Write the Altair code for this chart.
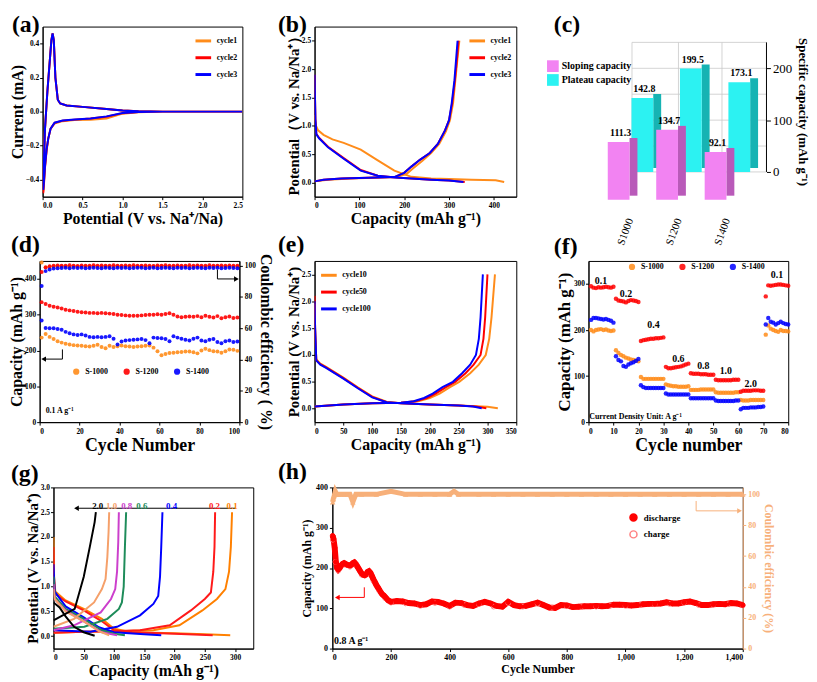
import altair as alt
import pandas as pd

SERIF = "Liberation Serif"
ORANGE = "#FF8C1A"
RED = "#FF0000"
BLUE = "#0000FF"
PINK = "#F283F2"
PINK_SIDE = "#B95AB9"
CYAN = "#2CF2F2"
CYAN_SIDE = "#16B3B3"
CE_ORANGE = "#F7B07A"

# ---------------- (a) cyclic voltammetry ----------------
cv_potential = [2.5, 2.0, 1.5, 1.2, 1.0, 0.8, 0.6, 0.4, 0.25, 0.15, 0.1, 0.07, 0.05, 0.03, 0.015, 0.008,
                0.012, 0.03, 0.06, 0.09, 0.11, 0.125, 0.14, 0.16, 0.19, 0.22, 0.3, 0.5, 0.8, 1.0, 1.2, 1.5, 2.0, 2.5]
cv_cycle1 = [0.0, 0.0, 0.0, -0.004, -0.012, -0.04, -0.048, -0.05, -0.056, -0.07, -0.1, -0.16, -0.22, -0.32, -0.43, -0.47,
             -0.35, -0.1, 0.12, 0.3, 0.42, 0.46, 0.42, 0.2, 0.07, 0.048, 0.036, 0.028, 0.016, 0.006, 0.002, 0.0, 0.0, 0.0]
cv_cycle2 = [0.0, 0.0, 0.0, -0.002, -0.009, -0.03, -0.041, -0.047, -0.053, -0.066, -0.1, -0.16, -0.23, -0.33, -0.44, -0.48,
             -0.36, -0.1, 0.12, 0.3, 0.42, 0.46, 0.42, 0.2, 0.07, 0.048, 0.036, 0.028, 0.016, 0.006, 0.002, 0.0, 0.0, 0.0]
cv_cycle3 = [0.0, 0.0, 0.0, -0.002, -0.008, -0.028, -0.04, -0.046, -0.052, -0.065, -0.1, -0.16, -0.22, -0.32, -0.42, -0.46,
             -0.35, -0.1, 0.12, 0.3, 0.42, 0.46, 0.42, 0.2, 0.07, 0.048, 0.036, 0.028, 0.016, 0.006, 0.002, 0.0, 0.0, 0.0]

# ---------------- (b) first three cycles GCD ----------------
b_c1_dis_cap = [0, 3, 8, 20, 40, 65, 103, 141, 178, 216, 260, 300, 350, 404, 423]
b_c1_dis_pot = [1.19, 1.0, 0.92, 0.84, 0.76, 0.7, 0.58, 0.39, 0.21, 0.1, 0.07, 0.06, 0.05, 0.04, 0.01]
b_c1_chg_cap = [0, 30, 80, 130, 180, 205, 220, 240, 260, 278, 293, 302, 309, 314, 319, 323]
b_c1_chg_pot = [0.02, 0.05, 0.07, 0.085, 0.095, 0.15, 0.25, 0.38, 0.52, 0.68, 0.9, 1.1, 1.4, 1.8, 2.2, 2.5]
b_c2_dis_cap = [0, 1, 2, 4, 10, 30, 65, 103, 141, 180, 216, 260, 300, 335]
b_c2_dis_pot = [1.9, 1.5, 1.1, 0.86, 0.79, 0.63, 0.43, 0.22, 0.12, 0.09, 0.07, 0.05, 0.035, 0.01]
b_c2_chg_cap = [0, 20, 60, 120, 178, 200, 216, 235, 257, 275, 291, 300, 307, 313, 318, 321]
b_c2_chg_pot = [0.02, 0.05, 0.07, 0.085, 0.095, 0.17, 0.28, 0.4, 0.52, 0.68, 0.92, 1.1, 1.4, 1.8, 2.2, 2.5]
b_c3_dis_cap = [0, 1, 2, 4, 10, 30, 65, 103, 141, 180, 216, 260, 300, 332]
b_c3_dis_pot = [1.9, 1.5, 1.1, 0.85, 0.78, 0.62, 0.42, 0.21, 0.12, 0.09, 0.07, 0.05, 0.035, 0.01]
b_c3_chg_cap = [0, 20, 60, 120, 178, 200, 216, 235, 257, 275, 291, 300, 306, 312, 316, 319]
b_c3_chg_pot = [0.02, 0.05, 0.07, 0.085, 0.095, 0.17, 0.28, 0.4, 0.52, 0.68, 0.92, 1.1, 1.4, 1.8, 2.2, 2.5]

# ---------------- (c) sloping / plateau capacity ----------------
c_sample = ["S1000", "S1200", "S1400"]
c_sloping = [111.3, 134.7, 92.1]
c_plateau = [142.8, 199.5, 173.1]
c_grid = [0, 50, 100, 150, 200, 250]

# ---------------- (d) cycling at 0.1 A/g ----------------
d_cycle = list(range(1, 101, 2))
d_cap_1000 = [236, 246, 238, 232, 226, 222, 219, 217, 215, 214, 213, 212, 211, 213, 216, 210, 206, 213, 210, 212,
              214, 212, 211, 210, 211, 212, 213, 214, 208, 198, 187, 190, 193, 194, 195, 196, 197, 197, 195, 192,
              200, 205, 201, 198, 197, 194, 198, 203, 202, 199]
d_cap_1200 = [335, 330, 325, 322, 320, 317, 314, 312, 310, 308, 307, 306, 305, 305, 304, 305, 304, 303, 302, 300,
              299, 298, 297, 297, 297, 298, 299, 300, 300, 301, 300, 302, 304, 300, 295, 293, 294, 295, 294, 296,
              293, 297, 294, 292, 296, 290, 293, 295, 291, 292]
d_cap_1400 = [284, 263, 262, 262, 260, 258, 252, 248, 245, 243, 245, 242, 238, 237, 238, 237, 238, 240, 233, 217,
              225, 228, 229, 230, 231, 232, 229, 220, 236, 235, 234, 232, 226, 240, 236, 233, 230, 228, 233, 236,
              228, 226, 230, 232, 224, 220, 226, 228, 224, 225]
d_ce_1000 = [102, 99.0, 99.3, 99.5, 99.4, 99.6, 99.5, 99.3, 99.6, 99.5, 99.4, 99.7, 99.5, 99.6, 99.4, 99.5, 99.6,
             99.3, 99.5, 99.6, 99.4, 99.5, 99.7, 99.5, 99.4, 99.6, 99.5, 99.3, 99.6, 99.5, 99.7, 99.4, 99.5, 99.6,
             99.5, 99.4, 99.6, 99.5, 99.3, 99.6, 99.5, 99.4, 99.6, 99.5, 99.7, 99.5, 99.4, 99.6, 99.5, 99.4]
d_ce_1200 = [96.0, 98.8, 99.6, 99.9, 100.1, 100.0, 99.9, 100.2, 100.0, 99.8, 100.1, 100.0, 99.9, 100.2, 100.0,
             100.1, 99.9, 100.0, 100.2, 100.0, 99.9, 100.1, 100.0, 100.2, 99.9, 100.0, 100.1, 100.0, 99.8, 100.1,
             100.0, 100.2, 99.9, 100.0, 100.1, 100.0, 99.9, 100.2, 100.0, 100.1, 99.9, 100.0, 100.2, 100.0, 99.9,
             100.1, 100.0, 100.1, 99.9, 100.0]
d_ce_1400 = [87.0, 96.5, 97.6, 98.2, 98.4, 98.5, 98.6, 98.4, 98.7, 98.5, 98.6, 98.4, 98.5, 98.7, 98.5, 98.3, 98.6,
             98.5, 98.4, 98.7, 98.5, 98.6, 98.4, 98.5, 98.7, 98.6, 98.4, 98.5, 98.6, 98.3, 98.5, 98.7, 98.5, 98.4,
             98.6, 98.5, 98.7, 98.4, 98.5, 98.6, 98.5, 98.4, 98.7, 98.5, 98.6, 98.4, 98.5, 98.6, 98.5, 98.4]
d_arrow_left_cycle = [11.4, 11.4, 2.0]
d_arrow_left_cap = [203, 176, 176]
d_arrow_right_cycle = [89, 89, 98.5]
d_arrow_right_ce = [97.5, 91.5, 91.5]

# ---------------- (e) cycles 10/50/100 GCD ----------------
e_c10_dis_cap = [0, 1, 3, 10, 20, 50, 75, 100, 125, 150, 200, 250, 300, 318]
e_c10_dis_pot = [1.95, 1.4, 0.92, 0.84, 0.78, 0.58, 0.4, 0.23, 0.13, 0.1, 0.08, 0.06, 0.035, 0.01]
e_c10_chg_cap = [0, 50, 100, 150, 180, 200, 217, 235, 251, 270, 285, 297, 303, 307, 310, 313]
e_c10_chg_pot = [0.04, 0.08, 0.1, 0.11, 0.14, 0.2, 0.28, 0.4, 0.5, 0.66, 0.82, 1.0, 1.3, 1.7, 2.1, 2.5]
e_c50_dis_cap = [0, 1, 3, 10, 20, 50, 75, 100, 125, 150, 200, 250, 280, 298]
e_c50_dis_pot = [2.1, 1.5, 0.9, 0.83, 0.77, 0.57, 0.39, 0.22, 0.12, 0.1, 0.08, 0.06, 0.04, 0.01]
e_c50_chg_cap = [0, 50, 100, 150, 175, 195, 210, 228, 244, 262, 276, 288, 293, 296, 298, 300]
e_c50_chg_pot = [0.04, 0.08, 0.1, 0.11, 0.14, 0.2, 0.28, 0.4, 0.5, 0.66, 0.82, 1.0, 1.3, 1.7, 2.1, 2.5]
e_c100_dis_cap = [0, 1, 3, 10, 20, 50, 75, 100, 125, 150, 200, 250, 275, 290]
e_c100_dis_pot = [2.0, 1.5, 0.9, 0.82, 0.76, 0.56, 0.38, 0.21, 0.12, 0.1, 0.08, 0.06, 0.04, 0.01]
e_c100_chg_cap = [0, 50, 100, 150, 172, 190, 205, 222, 240, 256, 270, 280, 285, 288, 290, 292]
e_c100_chg_pot = [0.04, 0.08, 0.1, 0.11, 0.14, 0.2, 0.28, 0.4, 0.5, 0.66, 0.82, 1.0, 1.3, 1.7, 2.1, 2.5]

# ---------------- (f) rate capability ----------------
f_cycle = list(range(1, 81))
f_s1000 = [200, 197, 200, 201, 202, 200, 201, 199, 198, 199,
           156, 150, 146, 143, 140, 138, 136, 135, 134, 132,
           98, 94, 94, 94, 94, 94, 94, 94, 94, 94,
           82, 80, 79, 78, 78, 77, 77, 77, 77, 78,
           70, 70, 70, 70, 71, 71, 71, 71, 71, 71,
           65, 64, 64, 64, 64, 64, 64, 64, 65, 65,
           48, 47, 47, 47, 48, 48, 48, 48, 48, 48,
           190, 210, 203, 200, 198, 196, 200, 198, 198, 197]
f_s1200 = [295, 292, 291, 293, 292, 293, 294, 293, 292, 294,
           268, 264, 263, 262, 260, 263, 265, 264, 263, 261,
           176, 178, 179, 180, 181, 181, 182, 182, 183, 184,
           120, 117, 117, 118, 119, 120, 121, 123, 125, 127,
           106, 105, 105, 105, 104, 104, 104, 103, 103, 103,
           92, 91, 91, 91, 91, 91, 91, 92, 92, 92,
           66, 68, 68, 68, 68, 69, 69, 69, 68, 68,
           273, 297, 296, 297, 298, 299, 299, 298, 297, 296]
f_s1400 = [222, 226, 226, 225, 224, 223, 224, 222, 220, 216,
           143, 135, 132, 122, 120, 125, 128, 130, 133, 137,
           80, 76, 74, 74, 74, 74, 74, 74, 74, 74,
           62, 60, 60, 60, 60, 60, 60, 60, 60, 60,
           52, 52, 52, 52, 52, 52, 52, 52, 52, 52,
           47, 46, 46, 46, 46, 46, 46, 46, 47, 47,
           28, 31, 31, 31, 32, 32, 32, 33, 33, 34,
           212, 226, 218, 216, 212, 215, 218, 215, 213, 212]
f_rate_text = ["0.1", "0.2", "0.4", "0.6", "0.8", "1.0", "2.0", "0.1"]
f_rate_cycle = [5, 15, 26, 36, 46, 55, 65, 75.5]
f_rate_cap = [307, 278, 210, 138, 121, 110, 83, 319]

# ---------------- (g) GCD at different rates ----------------
g_rates = ["0.1", "0.2", "0.4", "0.6", "0.8", "1.0", "2.0"]
g_colors = ["#FF8000", "#FF1A1A", "#0000FF", "#1E8C5A", "#CC3FCC", "#F5A06A", "#000000"]
g_01_dis_cap = [0, 1, 3, 20, 50, 80, 100, 130, 200, 250, 292]
g_01_dis_pot = [2.0, 1.2, 0.9, 0.72, 0.55, 0.35, 0.15, 0.08, 0.06, 0.04, 0.02]
g_01_chg_cap = [0, 50, 100, 165, 208, 246, 270, 284, 290, 293, 295]
g_01_chg_pot = [0.07, 0.09, 0.1, 0.12, 0.22, 0.52, 0.75, 0.95, 1.3, 1.8, 2.5]
g_02_dis_cap = [0, 1, 3, 20, 50, 80, 100, 130, 200, 263]
g_02_dis_pot = [1.8, 1.1, 0.85, 0.7, 0.52, 0.3, 0.12, 0.08, 0.05, 0.02]
g_02_chg_cap = [0, 50, 100, 143, 192, 227, 250, 260, 264, 266, 267]
g_02_chg_pot = [0.07, 0.09, 0.1, 0.12, 0.22, 0.52, 0.75, 0.88, 1.3, 1.8, 2.5]
g_04_dis_cap = [0, 2, 20, 50, 75, 100, 150, 178]
g_04_dis_pot = [1.45, 0.9, 0.6, 0.38, 0.18, 0.08, 0.04, 0.02]
g_04_chg_cap = [0, 61, 105, 143, 165, 173, 176, 178, 180]
g_04_chg_pot = [0.12, 0.09, 0.19, 0.42, 0.65, 0.81, 1.2, 1.8, 2.5]
g_06_dis_cap = [0, 2, 20, 50, 80, 100, 118]
g_06_dis_pot = [1.2, 0.8, 0.55, 0.35, 0.12, 0.05, 0.02]
g_06_chg_cap = [0, 51, 89, 108, 113, 116, 118, 120]
g_06_chg_pot = [0.15, 0.19, 0.35, 0.55, 0.68, 1.0, 1.8, 2.5]
g_08_dis_cap = [0, 2, 20, 50, 80, 105]
g_08_dis_pot = [1.05, 0.75, 0.52, 0.3, 0.08, 0.02]
g_08_chg_cap = [0, 34, 78, 95, 102, 105, 107, 108]
g_08_chg_pot = [0.12, 0.22, 0.48, 0.75, 0.95, 1.3, 1.9, 2.5]
g_10_dis_cap = [0, 2, 20, 50, 75, 92]
g_10_dis_pot = [0.95, 0.75, 0.5, 0.3, 0.1, 0.02]
g_10_chg_cap = [0, 34, 67, 80, 86, 89, 91, 92]
g_10_chg_pot = [0.19, 0.35, 0.68, 0.95, 1.15, 1.6, 2.1, 2.5]
g_20_dis_cap = [0, 10, 20, 34, 50, 68]
g_20_dis_pot = [0.68, 0.58, 0.4, 0.19, 0.08, 0.01]
g_20_chg_cap = [0, 35, 50, 60, 68, 70]
g_20_chg_pot = [0.32, 0.55, 1.2, 1.8, 2.3, 2.5]
g_label_cap = [295, 266, 195, 146, 121, 96, 73]
g_arrow_cap = [300, 38]
g_arrow_pot = 2.58

# ---------------- (h) long cycling at 0.8 A/g ----------------
h_dis_cycle = [1, 4, 8, 12, 16, 20, 25, 30, 35, 40, 45, 50, 55, 60, 65, 70, 75, 80, 85, 90, 95, 100, 105, 110,
               115, 120, 125, 130, 135, 140, 145, 150, 155, 160, 165, 170, 175, 180, 185, 190, 195, 200,
               220, 240, 260, 280, 300, 320, 340, 360, 380, 400, 420, 440, 460, 480, 500, 520, 540, 560, 580,
               600, 620, 640, 660, 680, 700, 720, 740, 760, 780, 800, 820, 840, 860, 880, 900, 920, 940, 960,
               980, 1000, 1020, 1040, 1060, 1080, 1100, 1120, 1140, 1160, 1180, 1200, 1220, 1240, 1260, 1280,
               1300, 1320, 1340, 1360, 1380, 1400]
h_discharge = [280, 272, 250, 215, 200, 196, 200, 206, 210, 212, 210, 208, 207, 206, 208, 212, 214, 210, 204, 198,
               192, 186, 183, 182, 184, 190, 192, 188, 180, 172, 165, 158, 152, 146, 140, 135, 132, 128, 124, 120,
               118, 116, 118, 117, 113, 112, 108, 110, 117, 116, 112, 106, 114, 113, 108, 106, 112, 116, 112, 106,
               104, 116, 108, 105, 106, 110, 114, 108, 102, 101, 108, 107, 103, 104, 105, 105, 106, 105, 106, 109,
               109, 108, 107, 108, 110, 111, 111, 112, 115, 112, 112, 115, 117, 113, 108, 108, 110, 111, 110, 113,
               112, 108]
h_chg_cycle = [1, 10, 20, 40, 60, 80, 100, 120, 140, 160, 180, 200, 250, 300, 350, 400, 450, 500, 550, 600, 650,
               700, 750, 800, 850, 900, 950, 1000, 1050, 1100, 1150, 1200, 1250, 1300, 1350, 1400]
h_charge = [270, 215, 193, 208, 203, 208, 183, 186, 168, 143, 125, 114, 112, 106, 113, 104, 108, 110, 104, 113,
            104, 111, 101, 105, 103, 104, 107, 106, 108, 110, 111, 114, 108, 109, 110, 107]
h_ce_cycle = [1, 3, 6, 10, 15, 20, 30, 40, 50, 60, 70, 80, 100, 150, 200, 250, 300, 350, 400, 415, 430, 500, 550,
              600, 650, 700, 750, 800, 850, 900, 950, 1000, 1050, 1100, 1150, 1200, 1250, 1300, 1350, 1400]
h_ce = [95, 97, 99, 102, 100, 100, 100, 100, 100, 100, 95, 100, 100, 100, 102, 100, 100, 100, 100, 102, 100, 100,
        100, 100, 100, 100, 100, 100, 100, 100, 100, 100, 100, 100, 100, 100, 100, 100, 100, 100]
h_arrow_left_cycle = [109, 109, 17]
h_arrow_left_cap = [152, 127, 127]
h_arrow_right_cycle = [1241, 1241, 1389]
h_arrow_right_ce = [95.7, 89.3, 89.3]


# ======================= helpers =======================
def long_df(items):
    rows = []
    for series, seg, xs, ys in items:
        for i, (x, y) in enumerate(zip(xs, ys)):
            rows.append({"series": series, "seg": series + "-" + seg, "x": x, "y": y, "i": i})
    return pd.DataFrame(rows)


def ax(title, values, fmt=None, tsize=15, lsize=7.5, **kw):
    d = dict(title=title, values=values, labelFont=SERIF, labelFontWeight="bold", labelFontSize=lsize,
             titleFont=SERIF, titleFontWeight="bold", titleFontSize=tsize, grid=False, tickSize=3,
             tickColor="black", domainColor="black", labelColor="black", titleColor="black",
             labelPadding=2, titlePadding=2)
    if fmt:
        d["format"] = fmt
    d.update(kw)
    return alt.Axis(**d)


def yax(title, values, fmt=None, tsize=15, lsize=7.5, **kw):
    kw.setdefault("titlePadding", 0)
    kw.setdefault("labelPadding", 1)
    return ax(title, values, fmt=fmt, tsize=tsize, lsize=lsize, **kw)


def panel_label(txt, x, y):
    return alt.Chart(pd.DataFrame({"t": [txt]})).mark_text(
        font=SERIF, fontWeight="bold", fontSize=24, align="left", baseline="middle", color="black"
    ).encode(x=alt.value(x), y=alt.value(y), text="t:N")


def line_legend(orient, **kw):
    d = dict(title=None, orient=orient, labelFont=SERIF, labelFontWeight="bold", labelFontSize=8,
             symbolType="stroke", symbolStrokeWidth=3, symbolSize=250, rowPadding=1, padding=2, offset=3,
             labelOffset=4)
    d.update(kw)
    return alt.Legend(**d)


def line_chart(df, x_enc, y_enc, color_enc, sw=2):
    return alt.Chart(df).mark_line(strokeWidth=sw, clip=True).encode(
        x=x_enc, y=y_enc, color=color_enc, detail="seg:N", order="i:Q")


def note(txt, x, y, x_enc, y_enc, size=8, align="left", color="black", xname="x", yname="y"):
    return alt.Chart(pd.DataFrame({xname: [x], yname: [y], "t": [txt]})).mark_text(
        font=SERIF, fontWeight="bold", fontSize=size, align=align, baseline="middle", color=color
    ).encode(x=x_enc, y=y_enc, text="t:N")


def arrow(xs, ys, head, x_enc, y_enc, xname, yname, color="black"):
    df = pd.DataFrame({xname: xs, yname: ys, "i": list(range(len(xs)))})
    ln = alt.Chart(df).mark_line(color=color, strokeWidth=1).encode(x=x_enc, y=y_enc, order="i:Q")
    hd = alt.Chart(df.tail(1)).mark_point(shape=head, filled=True, size=30, color=color, opacity=1).encode(
        x=x_enc, y=y_enc)
    return [ln, hd]


def spacer(w, h=1):
    return alt.Chart(pd.DataFrame({"v": [0]})).mark_point(opacity=0).encode(
        x=alt.value(0), y=alt.value(0)).properties(width=w, height=h, view=alt.ViewBackground(stroke="transparent"))


def indep(c):
    return c.resolve_scale(color="independent", stroke="independent", fill="independent").resolve_legend(
        color="independent", stroke="independent", fill="independent")


cyc3_scale = alt.Scale(domain=["cycle1", "cycle2", "cycle3"], range=[ORANGE, RED, BLUE])

# ======================= (a) =======================
df_a = long_df([("cycle1", "cv", cv_potential, cv_cycle1),
                ("cycle2", "cv", cv_potential, cv_cycle2),
                ("cycle3", "cv", cv_potential, cv_cycle3)])
a_x = alt.X("x:Q", scale=alt.Scale(domain=[0, 2.5], nice=False),
            axis=ax("Potential (V vs. Na⁺/Na)", [0, 0.5, 1.0, 1.5, 2.0, 2.5], fmt=".1f", tsize=16))
a_y = alt.Y("y:Q", scale=alt.Scale(domain=[-0.5, 0.5], nice=False),
            axis=yax("Current (mA)", [-0.4, -0.2, 0, 0.2, 0.4], fmt=".1f", tsize=16))
a_col = alt.Color("series:N", scale=cyc3_scale, legend=line_legend("top-right"))
chart_a = alt.layer(line_chart(df_a, a_x, a_y, a_col), panel_label("(a)", -31, -2)).properties(
    width=202, height=172)

# ======================= (b) =======================
df_b = long_df([("cycle1", "d", b_c1_dis_cap, b_c1_dis_pot), ("cycle1", "c", b_c1_chg_cap, b_c1_chg_pot),
                ("cycle2", "d", b_c2_dis_cap, b_c2_dis_pot), ("cycle2", "c", b_c2_chg_cap, b_c2_chg_pot),
                ("cycle3", "d", b_c3_dis_cap, b_c3_dis_pot), ("cycle3", "c", b_c3_chg_cap, b_c3_chg_pot)])
b_x = alt.X("x:Q", scale=alt.Scale(domain=[0, 450], nice=False),
            axis=ax("Capacity (mAh g⁻¹)", [0, 100, 200, 300, 400], tsize=16))
b_y = alt.Y("y:Q", scale=alt.Scale(domain=[-0.25, 2.75], nice=False),
            axis=yax("Potential（V vs. Na/Na⁺）", [0, 0.5, 1.0, 1.5, 2.0, 2.5], fmt=".1f", tsize=15))
b_col = alt.Color("series:N", scale=cyc3_scale, legend=line_legend("top-right"))
chart_b = alt.layer(line_chart(df_b, b_x, b_y, b_col), panel_label("(b)", -37, -2)).properties(
    width=204, height=172)

# ======================= (c) =======================
df_c = pd.DataFrame({"sample": c_sample * 2,
                     "type": ["Sloping capacity"] * 3 + ["Plateau capacity"] * 3,
                     "val": c_sloping + c_plateau})
c_x = alt.X("sample:N", sort=c_sample, scale=alt.Scale(domain=c_sample, range=[48, 195], paddingInner=0, paddingOuter=0),
            axis=alt.Axis(title=None, labelAngle=290, labelFont=SERIF, labelFontSize=11, domain=False, ticks=False,
                          labelPadding=22, grid=False, labelColor="black"))
c_y = alt.Y("val:Q", scale=alt.Scale(domain=[-47.7, 280.5], nice=False, zero=False),
            axis=alt.Axis(orient="right", values=[0, 50, 100, 150, 200, 250], title="Specific capacity (mAh g⁻¹)",
                          labelFont=SERIF, labelFontSize=13, titleFont=SERIF, titleFontSize=13,
                          titleFontWeight="bold", domain=False, grid=False, tickSize=4, tickColor="black",
                          labelColor="black", titleColor="black", labelPadding=2, titlePadding=4))
c_col = alt.Color("type:N", scale=alt.Scale(domain=["Sloping capacity", "Plateau capacity"], range=[PINK, CYAN]),
                  legend=alt.Legend(orient="none", legendX=-12, legendY=34, title=None, symbolType="square",
                                    symbolSize=140, labelFont=SERIF, labelFontSize=10, labelFontWeight="bold",
                                    rowPadding=2, labelOffset=3, symbolStrokeWidth=0))
base_c = alt.Chart(df_c)
plat = base_c.transform_filter(alt.datum.type == "Plateau capacity")
slop = base_c.transform_filter(alt.datum.type == "Sloping capacity")
df_c_grid = pd.DataFrame({"val": c_grid})
one = pd.DataFrame({"v": [0]})
c_layers = [
    # back wall of the 3D box (decorative)
    alt.Chart(df_c_grid).mark_rule(color="#C8C8C8", strokeWidth=0.8).encode(
        x=alt.value(74), x2=alt.value(210), y=c_y),
    alt.Chart(one).mark_rule(color="#C8C8C8", strokeWidth=0.8).encode(
        x=alt.value(74), y=alt.datum(0), y2=alt.datum(250)),
    alt.Chart(one).mark_rule(color="#C8C8C8", strokeWidth=0.8).encode(
        x=alt.value(121), y=alt.datum(0), y2=alt.datum(250)),
    alt.Chart(one).mark_rule(color="#C8C8C8", strokeWidth=0.8).encode(
        x=alt.value(165), y=alt.datum(0), y2=alt.datum(250)),
    plat.mark_bar(width=8, color=CYAN_SIDE, xOffset=27, x2Offset=27, yOffset=-4, y2Offset=-4).encode(
        x=c_x, y=c_y, y2=alt.datum(0)),
    plat.mark_bar(width=22, xOffset=12, x2Offset=12).encode(x=c_x, y=c_y, y2=alt.datum(0), color=c_col),
    plat.mark_text(font=SERIF, fontWeight="bold", fontSize=10, dx=14, dy=-9, color="black").encode(
        x=c_x, y=c_y, text=alt.Text("val:Q", format=".1f")),
    slop.mark_bar(width=8, color=PINK_SIDE, xOffset=3, x2Offset=3, yOffset=24, y2Offset=24).encode(
        x=c_x, y=c_y, y2=alt.datum(0)),
    slop.mark_bar(width=22, xOffset=-12, x2Offset=-12, yOffset=28, y2Offset=28).encode(
        x=c_x, y=c_y, y2=alt.datum(0), color=c_col),
    slop.mark_text(font=SERIF, fontWeight="bold", fontSize=10, dx=-10, dy=19, color="black").encode(
        x=c_x, y=c_y, text=alt.Text("val:Q", format=".1f")),
    alt.Chart(one).mark_rule(color="black", strokeWidth=1).encode(
        x=alt.value(210), y=alt.datum(0), y2=alt.datum(250)),
    panel_label("(c)", -5, -2),
]
chart_c = alt.layer(*c_layers).properties(width=210, height=172, view=alt.ViewBackground(stroke="transparent"))

# ======================= (d) =======================
s3_scale = alt.Scale(domain=["S-1000", "S-1200", "S-1400"], range=[ORANGE, RED, BLUE])
df_d_cap = pd.DataFrame({"series": ["S-1000"] * 50 + ["S-1200"] * 50 + ["S-1400"] * 50,
                         "cycle": d_cycle * 3, "val": d_cap_1000 + d_cap_1200 + d_cap_1400})
df_d_ce = pd.DataFrame({"series": ["S-1000"] * 50 + ["S-1200"] * 50 + ["S-1400"] * 50,
                        "cycle": d_cycle * 3, "ce": d_ce_1000 + d_ce_1200 + d_ce_1400})
d_x = alt.X("cycle:Q", scale=alt.Scale(domain=[0, 100], nice=False),
            axis=ax("Cycle Number", [0, 20, 40, 60, 80, 100], tsize=18))
d_y = alt.Y("val:Q", scale=alt.Scale(domain=[0, 450], nice=False),
            axis=yax("Capacity (mAh g⁻¹)", [0, 100, 200, 300, 400], tsize=16))
d_y2 = alt.Y("ce:Q", scale=alt.Scale(domain=[0, 103], nice=False),
             axis=ax("Coulombic efficiency ( %)", [0, 20, 40, 60, 80, 100], tsize=16, orient="right"))
d_col = alt.Color("series:N", scale=s3_scale,
                  legend=alt.Legend(orient="none", legendX=33, legendY=108, direction="horizontal", title=None,
                                    symbolType="circle", symbolSize=40, labelFont=SERIF, labelFontWeight="bold",
                                    labelFontSize=8, columnPadding=14, labelOffset=5))
d_left = alt.layer(
    alt.Chart(df_d_cap).mark_point(filled=True, size=16, opacity=0.9).encode(x=d_x, y=d_y, color=d_col),
    *arrow(d_arrow_left_cycle, d_arrow_left_cap, "triangle-left", d_x, d_y, "cycle", "val"),
    note("0.1 A g⁻¹", 3, 30, d_x, d_y, size=8, xname="cycle", yname="val"),
)
d_right = alt.layer(
    alt.Chart(df_d_ce).mark_point(filled=True, size=16, opacity=0.9).encode(x=d_x, y=d_y2, color=d_col),
    *arrow(d_arrow_right_cycle, d_arrow_right_ce, "triangle-right", d_x, d_y2, "cycle", "ce"),
)
chart_d = alt.layer(d_left, d_right, panel_label("(d)", -29, -16)).resolve_scale(y="independent").properties(
    width=202, height=163)

# ======================= (e) =======================
e_scale = alt.Scale(domain=["cycle10", "cycle50", "cycle100"], range=[ORANGE, RED, BLUE])
df_e = long_df([("cycle10", "d", e_c10_dis_cap, e_c10_dis_pot), ("cycle10", "c", e_c10_chg_cap, e_c10_chg_pot),
                ("cycle50", "d", e_c50_dis_cap, e_c50_dis_pot), ("cycle50", "c", e_c50_chg_cap, e_c50_chg_pot),
                ("cycle100", "d", e_c100_dis_cap, e_c100_dis_pot),
                ("cycle100", "c", e_c100_chg_cap, e_c100_chg_pot)])
e_x = alt.X("x:Q", scale=alt.Scale(domain=[0, 350], nice=False),
            axis=ax("Capacity (mAh g⁻¹)", [0, 50, 100, 150, 200, 250, 300, 350], tsize=16))
e_y = alt.Y("y:Q", scale=alt.Scale(domain=[-0.25, 2.75], nice=False),
            axis=yax("Potential (V vs. Na/Na⁺)", [0, 0.5, 1.0, 1.5, 2.0, 2.5], fmt=".1f", tsize=15))
e_col = alt.Color("series:N", scale=e_scale, legend=line_legend("top-left"))
chart_e = alt.layer(line_chart(df_e, e_x, e_y, e_col), panel_label("(e)", -37, -16)).properties(
    width=204, height=163)

# ======================= (f) =======================
df_f = pd.DataFrame({"series": ["S-1000"] * 80 + ["S-1200"] * 80 + ["S-1400"] * 80,
                     "cycle": f_cycle * 3, "val": f_s1000 + f_s1200 + f_s1400})
f_x = alt.X("cycle:Q", scale=alt.Scale(domain=[0, 80], nice=False),
            axis=ax("Cycle number", [0, 10, 20, 30, 40, 50, 60, 70, 80], tsize=18))
f_y = alt.Y("val:Q", scale=alt.Scale(domain=[0, 350], nice=False),
            axis=yax("Capacity (mAh g⁻¹)", [0, 100, 200, 300], tsize=17))
f_col = alt.Color("series:N", scale=s3_scale,
                  legend=alt.Legend(orient="none", legendX=40, legendY=2, direction="horizontal", title=None,
                                    symbolType="circle", symbolSize=40, labelFont=SERIF, labelFontWeight="bold",
                                    labelFontSize=8, columnPadding=14, labelOffset=5))
df_f_lab = pd.DataFrame({"cycle": f_rate_cycle, "val": f_rate_cap, "t": f_rate_text})
chart_f = alt.layer(
    alt.Chart(df_f).mark_point(filled=True, size=20, opacity=0.85).encode(x=f_x, y=f_y, color=f_col),
    alt.Chart(df_f_lab).mark_text(font=SERIF, fontWeight="bold", fontSize=10, color="black").encode(
        x=f_x, y=f_y, text="t:N"),
    note("Current Density Unit: A g⁻¹", 0.3, 11, f_x, f_y, size=8, xname="cycle", yname="val"),
    panel_label("(f)", -35, -14),
).properties(width=202, height=163)

# ======================= (g) =======================
g_items = []
g_curves = [(g_01_dis_cap, g_01_dis_pot, g_01_chg_cap, g_01_chg_pot),
            (g_02_dis_cap, g_02_dis_pot, g_02_chg_cap, g_02_chg_pot),
            (g_04_dis_cap, g_04_dis_pot, g_04_chg_cap, g_04_chg_pot),
            (g_06_dis_cap, g_06_dis_pot, g_06_chg_cap, g_06_chg_pot),
            (g_08_dis_cap, g_08_dis_pot, g_08_chg_cap, g_08_chg_pot),
            (g_10_dis_cap, g_10_dis_pot, g_10_chg_cap, g_10_chg_pot),
            (g_20_dis_cap, g_20_dis_pot, g_20_chg_cap, g_20_chg_pot)]
for rate, (dc, dp, cc, cp) in zip(g_rates, g_curves):
    g_items.append((rate, "d", dc, dp))
    g_items.append((rate, "c", cc, cp))
df_g = long_df(g_items)
g_scale = alt.Scale(domain=g_rates, range=g_colors)
g_x = alt.X("x:Q", scale=alt.Scale(domain=[0, 330], nice=False),
            axis=ax("Capacity (mAh g⁻¹)", [0, 50, 100, 150, 200, 250, 300], tsize=16))
g_y = alt.Y("y:Q", scale=alt.Scale(domain=[-0.25, 3.0], nice=False),
            axis=yax("Potential (V vs. Na/Na⁺)", [0, 0.5, 1.0, 1.5, 2.0, 2.5, 3.0], fmt=".1f", tsize=15))
g_col = alt.Color("series:N", scale=g_scale, legend=None)
df_g_lab = pd.DataFrame({"x": g_label_cap, "y": [g_arrow_pot] * 7, "series": g_rates})
chart_g = alt.layer(
    line_chart(df_g, g_x, g_y, g_col),
    *arrow(g_arrow_cap, [g_arrow_pot, g_arrow_pot], "triangle-left", g_x, g_y, "x", "y"),
    alt.Chart(df_g_lab).mark_text(font=SERIF, fontWeight="bold", fontSize=9, baseline="bottom", dy=3).encode(
        x=g_x, y=g_y, text="series:N", color=g_col),
    panel_label("(g)", -43, -13),
).properties(width=202, height=163)

# ======================= (h) =======================
h_x = alt.X("cycle:Q", scale=alt.Scale(domain=[0, 1400], nice=False),
            axis=ax("Cycle Number", list(range(0, 1401, 200)), tsize=12, lsize=8))
h_y = alt.Y("val:Q", scale=alt.Scale(domain=[0, 400], nice=False),
            axis=ax("Capacity (mAh g⁻¹)", [0, 100, 200, 300, 400], tsize=12, lsize=8))
h_y2 = alt.Y("ce:Q", scale=alt.Scale(domain=[0, 104.5], nice=False),
             axis=ax("Coulombic efficiency (%)", [0, 20, 40, 60, 80, 100], tsize=12, lsize=8, orient="right",
                     labelColor=CE_ORANGE, titleColor=CE_ORANGE, domainColor=CE_ORANGE, tickColor=CE_ORANGE))
df_h_line = pd.DataFrame({"cycle": h_dis_cycle, "val": h_discharge})
df_h_pts = pd.DataFrame({"series": ["charge"] * len(h_chg_cycle) + ["discharge"] * len(h_dis_cycle),
                         "cycle": h_chg_cycle + h_dis_cycle, "val": h_charge + h_discharge})
h_leg = alt.Legend(orient="none", legendX=300, legendY=26, title=None, symbolType="circle", symbolSize=50,
                   labelFont=SERIF, labelFontWeight="bold", labelFontSize=9, rowPadding=2, labelOffset=6)
h_dom = ["discharge", "charge"]
h_left = alt.layer(
    alt.Chart(df_h_line).mark_line(color=RED, strokeWidth=6).encode(x=h_x, y=h_y),
    alt.Chart(df_h_pts).mark_point(shape="circle", size=22, strokeWidth=1, opacity=1).encode(
        x=h_x, y=h_y,
        stroke=alt.Stroke("series:N", scale=alt.Scale(domain=h_dom, range=[RED, "#FF8080"]), legend=h_leg),
        fill=alt.Fill("series:N", scale=alt.Scale(domain=h_dom, range=[RED, "transparent"]), legend=h_leg)),
    *arrow(h_arrow_left_cycle, h_arrow_left_cap, "triangle-left", h_x, h_y, "cycle", "val", color=RED),
    note("0.8 A g⁻¹", 6, 18, h_x, h_y, size=10, xname="cycle", yname="val"),
)
df_h_ce = pd.DataFrame({"cycle": h_ce_cycle, "ce": h_ce})
h_right = alt.layer(
    alt.Chart(df_h_ce).mark_line(color=CE_ORANGE, strokeWidth=5).encode(x=h_x, y=h_y2),
    alt.Chart(df_h_ce).mark_point(shape="triangle-up", filled=True, size=30, color=CE_ORANGE, opacity=1).encode(
        x=h_x, y=h_y2),
    *arrow(h_arrow_right_cycle, h_arrow_right_ce, "triangle-right", h_x, h_y2, "cycle", "ce", color=CE_ORANGE),
)
chart_h = alt.layer(h_left, h_right, panel_label("(h)", -55, -15)).resolve_scale(y="independent").properties(
    width=415, height=163)

# ======================= layout =======================
row1 = indep(alt.hconcat(spacer(3), chart_a, spacer(73), chart_b, spacer(43), chart_c, spacing=0, bounds="flush"))
row2 = indep(alt.hconcat(chart_d, spacer(76), chart_e, spacer(73), chart_f, spacing=0, bounds="flush"))
row3 = indep(alt.hconcat(spacer(14), chart_g, spacer(80), chart_h, spacing=0, bounds="flush"))

top = indep(alt.vconcat(row1, row2, spacing=-15, bounds="full"))
chart = indep(alt.vconcat(top, row3, spacing=5, bounds="full")).properties(
    padding=0
).configure(font=SERIF).configure_view(stroke="black", strokeWidth=1)

chart.save("out.html", embed_options={"renderer": "svg", "actions": False})
